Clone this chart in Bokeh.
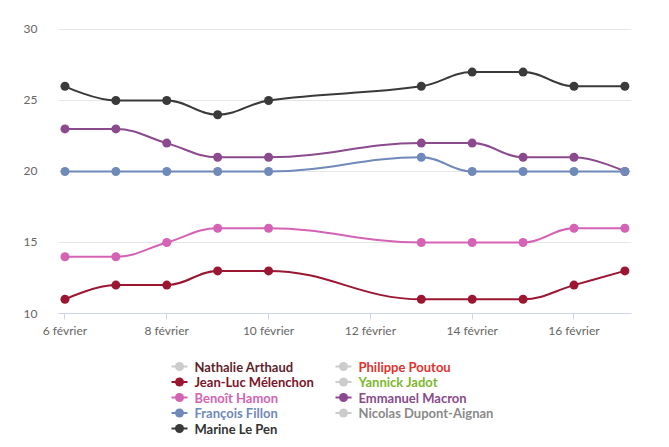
from bokeh.plotting import figure
from bokeh.models import Range1d, FixedTicker, ColumnDataSource
from bokeh.layouts import column
from bokeh.core.properties import value
from bokeh.embed import file_html
from bokeh.resources import INLINE

# ---------------- data ----------------
days = [6, 7, 8, 9, 10, 13, 14, 15, 16, 17]
tick_days = [6, 8, 10, 12, 14, 16]
tick_labels = ["6 février", "8 février", "10 février", "12 février", "14 février", "16 février"]
y_ticks = [10, 15, 20, 25, 30]

le_pen = [26, 25, 25, 24, 25, 26, 27, 27, 26, 26]
macron = [23, 23, 22, 21, 21, 22, 22, 21, 21, 20]
fillon = [20, 20, 20, 20, 20, 21, 20, 20, 20, 20]
hamon = [14, 14, 15, 16, 16, 15, 15, 15, 16, 16]
melenchon = [11, 12, 12, 13, 13, 11, 11, 11, 12, 13]

# legend order (row-major, 2 columns)
names = ["Nathalie Arthaud", "Philippe Poutou", "Jean-Luc Mélenchon", "Yannick Jadot",
         "Benoît Hamon", "Emmanuel Macron", "François Fillon", "Nicolas Dupont-Aignan",
         "Marine Le Pen"]
series = [None, None, melenchon, None, hamon, macron, fillon, None, le_pen]
line_colors = ["#cccccc", "#cccccc", "#9b1631", "#cccccc", "#d563b5", "#8a4a8d",
               "#6f89b8", "#cccccc", "#3a3a3a"]
label_colors = ["#5e1f2b", "#e0322f", "#7a1428", "#7cb82f", "#d563b5", "#8a4a8d",
                "#6f89b8", "#8a8a8a", "#333333"]


def spline(xs, ys, smoothing=1.5):
    n = len(xs)
    lc = [(x, y) for x, y in zip(xs, ys)]
    rc = [(x, y) for x, y in zip(xs, ys)]
    for i in range(1, n - 1):
        px, py = xs[i], ys[i]
        lx, ly = xs[i - 1], ys[i - 1]
        nx, ny = xs[i + 1], ys[i + 1]
        d = smoothing + 1
        lcx = (smoothing * px + lx) / d
        lcy = (smoothing * py + ly) / d
        rcx = (smoothing * px + nx) / d
        rcy = (smoothing * py + ny) / d
        corr = 0
        if rcx != lcx:
            corr = (rcy - lcy) * (rcx - px) / (rcx - lcx) + py - rcy
        lcy += corr
        rcy += corr
        if lcy > ly and lcy > py:
            lcy = max(ly, py)
            rcy = 2 * py - lcy
        elif lcy < ly and lcy < py:
            lcy = min(ly, py)
            rcy = 2 * py - lcy
        if rcy > ny and rcy > py:
            rcy = max(ny, py)
            lcy = 2 * py - rcy
        elif rcy < ny and rcy < py:
            rcy = min(ny, py)
            lcy = 2 * py - rcy
        lc[i] = (lcx, lcy)
        rc[i] = (rcx, rcy)
    seg = dict(x0=[], y0=[], x1=[], y1=[], cx0=[], cy0=[], cx1=[], cy1=[])
    for i in range(1, n):
        seg["x0"].append(xs[i - 1]); seg["y0"].append(ys[i - 1])
        seg["x1"].append(xs[i]); seg["y1"].append(ys[i])
        seg["cx0"].append(rc[i - 1][0]); seg["cy0"].append(rc[i - 1][1])
        seg["cx1"].append(lc[i][0]); seg["cy1"].append(lc[i][1])
    return seg


FONT = "Lato"
W = 669
BL, BR = 58, 38
TOP_H = 348

p = figure(width=W, height=TOP_H, output_backend="svg", toolbar_location=None,
           x_range=Range1d(5.873, 17.13), y_range=Range1d(10, 30.07),
           min_border_left=BL, min_border_right=BR, min_border_top=28, min_border_bottom=35)
p.outline_line_color = None
p.background_fill_color = "white"
p.border_fill_color = "white"

p.xgrid.grid_line_color = None
p.ygrid.grid_line_color = "#e6e6e6"
p.ygrid.grid_line_width = 1

p.xaxis.ticker = FixedTicker(ticks=tick_days)
p.xaxis.major_label_overrides = {d: l for d, l in zip(tick_days, tick_labels)}
p.xaxis.axis_line_color = "#ccd6eb"
p.xaxis.major_tick_line_color = "#ccd6eb"
p.xaxis.major_tick_out = 6
p.xaxis.major_tick_in = 0
p.xaxis.minor_tick_line_color = None
p.xaxis.major_label_standoff = 3

p.yaxis.ticker = FixedTicker(ticks=y_ticks)
p.yaxis.axis_line_color = None
p.yaxis.major_tick_line_color = None
p.yaxis.minor_tick_line_color = None
p.yaxis.major_label_standoff = 15

for ax in (p.xaxis, p.yaxis):
    ax.major_label_text_font = FONT
    ax.major_label_text_font_size = "12px"
    ax.major_label_text_color = "#666666"

for name, ys, col in zip(names, series, line_colors):
    if ys is None:
        continue
    seg = spline(days, ys)
    p.bezier(x0="x0", y0="y0", x1="x1", y1="y1", cx0="cx0", cy0="cy0", cx1="cx1", cy1="cy1",
             source=ColumnDataSource(seg), line_color=col, line_width=2)
    p.scatter(days, ys, size=9, fill_color=col, line_color=col, line_width=0)

# ---------------- legend (coordinates = page pixels) ----------------
LH = 447 - TOP_H
lg = figure(width=W, height=LH, output_backend="svg", toolbar_location=None,
            x_range=Range1d(BL, W - BR), y_range=Range1d(447, TOP_H),
            min_border_left=BL, min_border_right=BR, min_border_top=0, min_border_bottom=0)
lg.axis.visible = False
lg.grid.visible = False
lg.outline_line_color = None
lg.background_fill_color = "white"
lg.border_fill_color = "white"

col_x = [179, 343]
row_y0, row_dy = 366, 15.5
sx, sy, tx, ty = [], [], [], []
for i, nm in enumerate(names):
    r, c = divmod(i, 2)
    sx.append(col_x[c])
    sy.append(row_y0 + r * row_dy)
    tx.append(col_x[c] + 15)
    ty.append(row_y0 + r * row_dy)

lsrc = ColumnDataSource(dict(sx=sx, sy=sy, x0=[v - 8 for v in sx], x1=[v + 8 for v in sx],
                             tx=tx, ty=ty, name=names, lc=line_colors, tc=label_colors))
lg.segment(x0="x0", y0="sy", x1="x1", y1="sy", line_color="lc", line_width=2, source=lsrc)
lg.scatter(x="sx", y="sy", size=9, fill_color="lc", line_color="lc", line_width=0, source=lsrc)
lg.text(x="tx", y="ty", text="name", text_color="tc", text_font=value(FONT),
        text_font_style="bold", text_font_size="13px", text_baseline="middle",
        text_align="left", source=lsrc)

layout = column(p, lg, spacing=0)
open("out.html", "w").write(file_html(layout, INLINE))
